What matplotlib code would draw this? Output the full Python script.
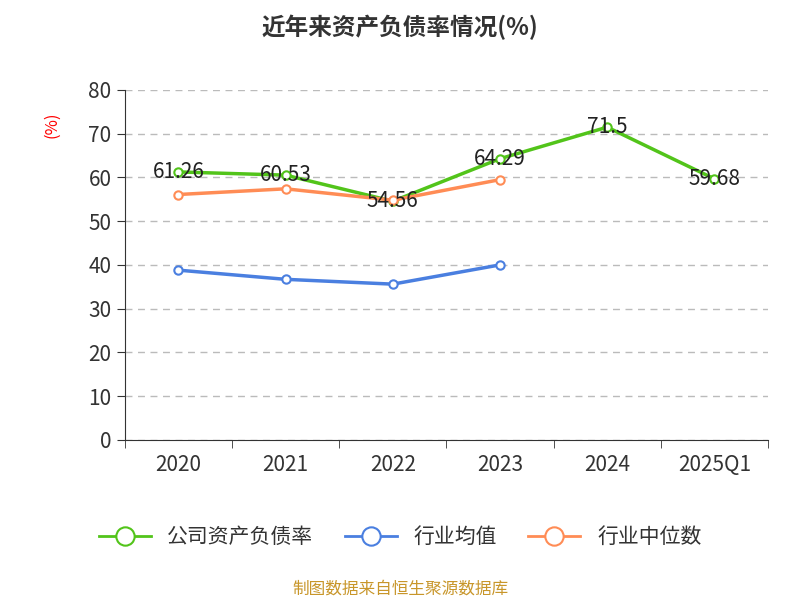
import matplotlib.pyplot as plt
import numpy as np

plt.rcParams["font.family"] = ["Noto Sans CJK JP", "Noto Sans CJK SC", "Noto Sans CJK TC",
                               "Noto Sans CJK KR", "DejaVu Sans"]

years = ["2020", "2021", "2022", "2023", "2024", "2025Q1"]
company = [61.26, 60.53, 54.56, 64.29, 71.5, 59.68]
industry_avg = [38.8, 36.7, 35.6, 40.0]
industry_median = [56.1, 57.4, 54.8, 59.5]

fig = plt.figure(figsize=(8, 6), dpi=100)
ax = fig.add_axes([0.156, 0.267, 0.804, 0.583])

x = np.arange(len(years))
ax.plot(x, company, color="#52c41a", lw=2.5, marker="o", ms=6, mfc="white", mew=1.5, label="公司资产负债率", zorder=3)
ax.plot(x[:4], industry_avg, color="#4a7fe0", lw=2.5, marker="o", ms=6, mfc="white", mew=1.5, label="行业均值", zorder=3)
ax.plot(x[:4], industry_median, color="#ff8c55", lw=2.5, marker="o", ms=6, mfc="white", mew=1.5, label="行业中位数", zorder=3)

for xi, v in zip(x, company):
    ax.text(xi, v, f"{v:g}", ha="center", va="center", fontsize=15, color="#222222", zorder=4)

ax.set_xlim(-0.5, 5.5)
ax.set_ylim(0, 80)
ax.set_yticks(range(0, 81, 10))
ax.set_xticks(x)
ax.set_xticklabels(years)
ax.set_xticks(np.arange(-0.5, 5.6, 1), minor=True)
ax.tick_params(axis="x", which="major", length=0, labelsize=15, colors="#333333", pad=10)
ax.tick_params(axis="x", which="minor", length=6, color="#333333")
ax.tick_params(axis="y", labelsize=15, colors="#333333", length=6)
ax.grid(axis="y", ls=(0, (5, 4)), color="#bbbbbb", lw=1)
for s in ["top", "right"]:
    ax.spines[s].set_visible(False)
ax.spines["left"].set_color("#333333")
ax.spines["bottom"].set_color("#333333")
ax.set_ylabel("(%)", color="red", fontsize=12, labelpad=2)
ax.yaxis.set_label_coords(-0.1, 0.9)

fig.text(0.5, 0.955, "近年来资产负债率情况(%)", ha="center", va="center", fontsize=17, fontweight="bold", color="#333333")
leg = fig.legend(loc="center", bbox_to_anchor=(0.5, 0.105), ncol=3, frameon=False, fontsize=15,
                 handlelength=2.5, columnspacing=1.5, labelcolor="#333333", markerscale=2.2)
for h in leg.legend_handles:
    h.set_linewidth(2)
    h.set_markeredgewidth(1.5)
fig.text(0.5, 0.018, "制图数据来自恒生聚源数据库", ha="center", va="center", fontsize=12, color="#c8962a")

fig.savefig("out.png", dpi=100)
